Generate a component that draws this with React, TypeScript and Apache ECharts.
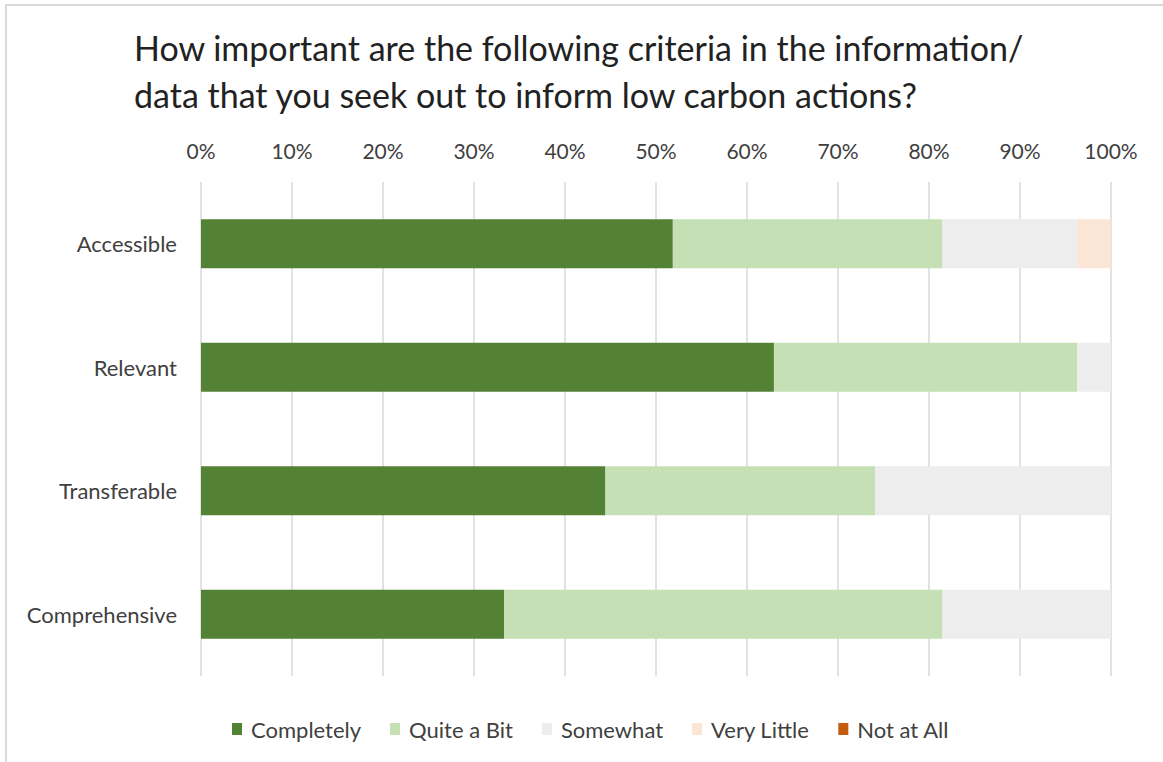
import React, { useEffect, useRef } from "react";
import * as echarts from "echarts";

const categories = ["Accessible", "Relevant", "Transferable", "Comprehensive"];
const seriesNames = ["Completely", "Quite a Bit", "Somewhat", "Very Little", "Not at All"];
const completely = [51.85, 62.96, 44.44, 33.33];
const quiteABit = [29.63, 33.33, 29.63, 48.15];
const somewhat = [14.81, 3.71, 25.93, 18.52];
const veryLittle = [3.71, 0, 0, 0];
const notAtAll = [0, 0, 0, 0];
const colors = ["#548235", "#C5E0B4", "#EDEDED", "#FBE5D6", "#C55A11"];
const titleText =
  "How important are the following criteria in the information/\ndata that you seek out to inform low carbon actions?";

export default function App() {
  const ref = useRef<HTMLDivElement>(null);
  useEffect(() => {
    if (!ref.current) return;
    const chart = echarts.init(ref.current, null, { renderer: "svg" });
    const values = [completely, quiteABit, somewhat, veryLittle, notAtAll];
    chart.setOption({
      animation: false,
      backgroundColor: "#ffffff",
      textStyle: { fontFamily: "Lato" },
      title: {
        text: titleText,
        left: 129,
        top: 19,
        textStyle: {
          fontFamily: "Lato",
          fontSize: 34,
          fontWeight: "normal",
          color: "#222222",
          lineHeight: 47,
        },
      },
      graphic: [
        {
          type: "rect",
          shape: { x: 6, y: 5, width: 1300, height: 900 },
          style: { fill: "none", stroke: "#d9d9d9", lineWidth: 2 },
          silent: true,
        },
      ],
      legend: {
        left: 227,
        top: 713,
        itemWidth: 10,
        itemHeight: 12,
        itemGap: 29,
        icon: "rect",
        data: seriesNames,
        textStyle: { fontFamily: "Lato", fontSize: 22, color: "#404040", padding: [0, 0, 0, 4] },
      },
      grid: { left: 201, right: 52, top: 182, bottom: 86 },
      xAxis: {
        type: "value",
        position: "top",
        min: 0,
        max: 100,
        interval: 10,
        axisLine: { show: false },
        axisTick: { show: false },
        axisLabel: {
          formatter: "{value}%",
          fontFamily: "Lato",
          fontSize: 21,
          color: "#404040",
          margin: 21,
        },
        splitLine: { show: true, lineStyle: { color: "#d9d9d9", width: 1.5 } },
      },
      yAxis: {
        type: "category",
        inverse: true,
        data: categories,
        axisLine: { show: false },
        axisTick: { show: false },
        axisLabel: {
          fontFamily: "Lato",
          fontSize: 22,
          color: "#404040",
          margin: 24,
        },
      },
      series: seriesNames.map((name, i) => ({
        name,
        type: "bar",
        stack: "total",
        barWidth: 49,
        data: values[i],
        itemStyle: { color: colors[i] },
      })),
    });
    return () => chart.dispose();
  }, []);
  return (
    <div
      ref={ref}
      style={{ position: "fixed", left: 0, top: 0, width: 1163, height: 762 }}
    />
  );
}
